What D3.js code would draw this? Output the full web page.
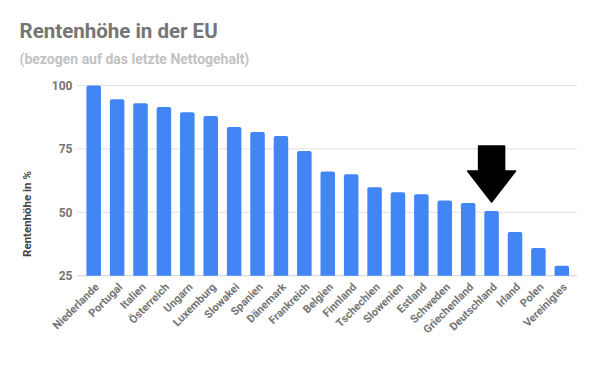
<!DOCTYPE html>
<html>
<head>
<meta charset="utf-8">
<script src="https://cdn.jsdelivr.net/npm/d3@7"></script>
<style>
  body { margin: 0; background: #fff; }
  svg { display: block; font-family: Roboto, "Noto Sans", sans-serif; }
</style>
</head>
<body>
<script>
// Länder und Rentenhöhe (% vom letzten Nettogehalt)
const countries = ["Niederlande", "Portugal", "Italien", "Österreich", "Ungarn", "Luxemburg",
  "Slowakei", "Spanien", "Dänemark", "Frankreich", "Belgien", "Finnland", "Tschechien",
  "Slowenien", "Estland", "Schweden", "Griechenland", "Deutschland", "Irland", "Polen", "Vereinigtes"];
const values = [100, 94.6, 93.0, 91.5, 89.5, 88.0, 83.6, 81.7, 80.1, 74.2, 66.1, 65.0, 59.9,
  57.9, 57.1, 54.7, 53.7, 50.5, 42.2, 35.9, 28.9];
const yTicks = [25, 50, 75, 100];
const highlight = "Deutschland";

const width = 595, height = 368;
const svg = d3.select("body").append("svg")
  .attr("width", width)
  .attr("height", height);

// Titel
svg.append("text")
  .attr("x", 19.5).attr("y", 37.5)
  .attr("fill", "#757575")
  .style("font-size", "20.5px").style("font-weight", "bold")
  .text("Rentenhöhe in der EU");

svg.append("text")
  .attr("x", 19.5).attr("y", 63.5)
  .attr("fill", "#c2c2c2")
  .style("font-size", "14px").style("font-weight", "bold")
  .text("(bezogen auf das letzte Nettogehalt)");

// Scales
const x = d3.scaleBand()
  .domain(countries)
  .range([82, 573.5])
  .paddingInner(0.38)
  .paddingOuter(0.19);

const y = d3.scaleLinear()
  .domain([25, 100])
  .range([275.7, 85.5]);

// Gridlines
svg.append("g")
  .selectAll("line")
  .data(yTicks)
  .enter().append("line")
  .attr("x1", 77).attr("x2", 577)
  .attr("y1", d => y(d)).attr("y2", d => y(d))
  .attr("stroke", d => d === 25 ? "#cfcfcf" : "#e0e0e0")
  .attr("stroke-width", 1);

// Y axis labels
svg.append("g")
  .selectAll("text")
  .data(yTicks)
  .enter().append("text")
  .attr("x", 72.5)
  .attr("y", d => y(d) + 4.5)
  .attr("text-anchor", "end")
  .attr("fill", "#757575")
  .style("font-size", "12px").style("font-weight", "bold")
  .text(d => d);

// Y axis title
svg.append("text")
  .attr("transform", "translate(31, 214) rotate(-90)")
  .attr("text-anchor", "middle")
  .attr("fill", "#444")
  .style("font-size", "11.5px").style("font-weight", "bold")
  .text("Rentenhöhe in %");

// Bars (rounded top corners)
const bw = x.bandwidth();
const r = 2;
svg.append("g")
  .selectAll("path")
  .data(countries)
  .enter().append("path")
  .attr("fill", "#4285f4")
  .attr("d", (c, i) => {
    const x0 = x(c), y0 = y(values[i]), yb = y(25);
    return `M${x0},${yb}V${y0 + r}Q${x0},${y0} ${x0 + r},${y0}H${x0 + bw - r}Q${x0 + bw},${y0} ${x0 + bw},${y0 + r}V${yb}Z`;
  });

// X labels
svg.append("g")
  .selectAll("text")
  .data(countries)
  .enter().append("text")
  .attr("transform", c => `translate(${x(c) + bw / 2 + 6}, ${y(25) + 12}) rotate(-45)`)
  .attr("text-anchor", "end")
  .attr("fill", "#757575")
  .style("font-size", "11px").style("font-weight", "bold")
  .text(c => c);

// Pfeil über Deutschland
const i = countries.indexOf(highlight);
const cx = x(highlight) + bw / 2;
const tip = y(values[i]) - 9;
const arrow = [
  [cx - 13, tip - 56], [cx + 13, tip - 56], [cx + 13, tip - 31], [cx + 24, tip - 31],
  [cx, tip], [cx - 24, tip - 31], [cx - 13, tip - 31]
];
svg.append("path")
  .attr("d", d3.line()(arrow) + "Z")
  .attr("fill", "#000")
  .attr("stroke", "#000")
  .attr("stroke-width", 1.5)
  .attr("stroke-linejoin", "round");
</script>
</body>
</html>
